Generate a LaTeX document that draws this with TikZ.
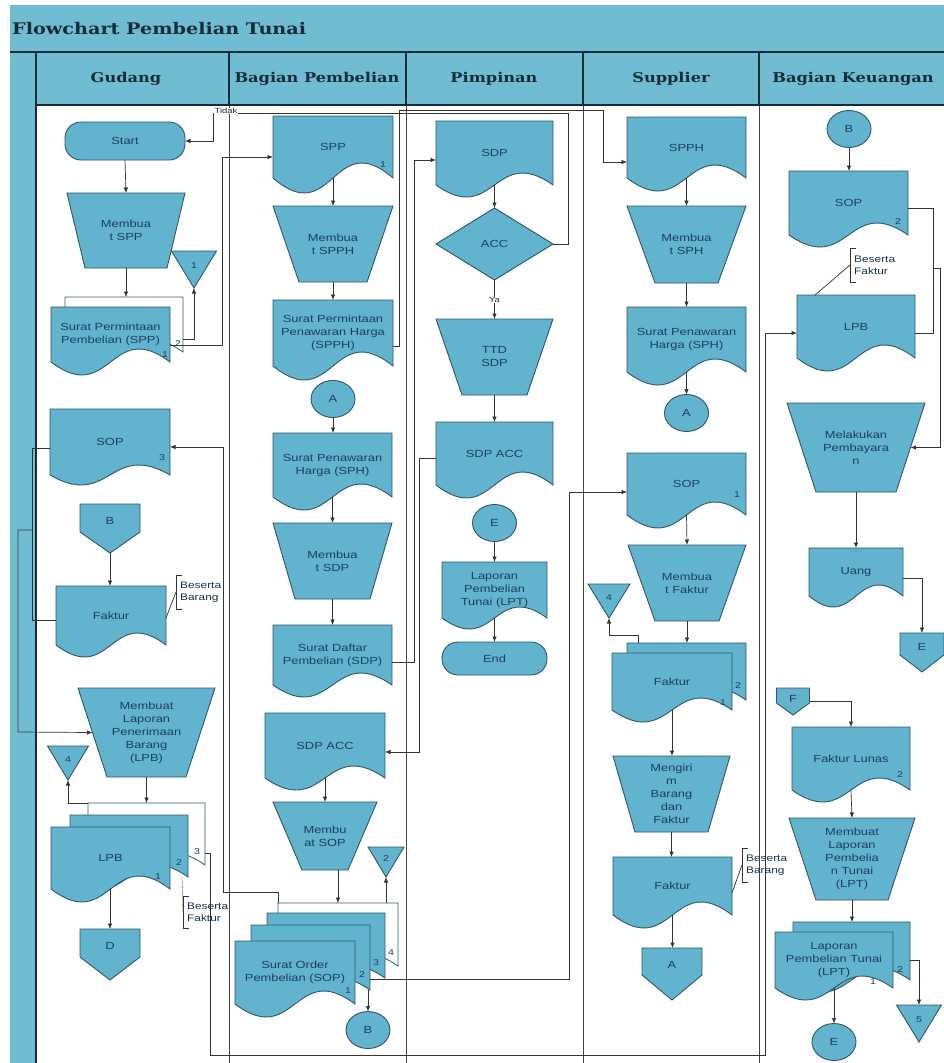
\documentclass[tikz,border=0pt]{standalone}
\usepackage{fontspec}
\usetikzlibrary{arrows.meta,shapes.geometric,calc}
\newfontfamily\shapefont[FakeStretch=1.25]{Liberation Sans}
\newfontfamily\headfont[FakeStretch=1.2]{DejaVu Serif}
\definecolor{bandblue}{HTML}{70BDD3}
\definecolor{shapeblue}{HTML}{62B3CD}
\definecolor{edge}{HTML}{2F5868}
\definecolor{ink}{HTML}{1C3E62}
\definecolor{wirecol}{HTML}{333333}
\definecolor{headink}{HTML}{142C38}
\definecolor{lanecol}{HTML}{444444}

\tikzset{
  shp/.style={fill=shapeblue, draw=edge, line width=0.9pt},
  shpw/.style={fill=white, draw=edge, line width=0.8pt},
  lbl/.style={inner sep=0pt, outer sep=0pt, align=center, text=ink,
    font=\shapefont\fontsize{10.3}{13}\selectfont},
  num/.style={inner sep=0pt, text=ink, font=\shapefont\fontsize{8.5}{9}\selectfont},
  tag/.style={fill=white, inner sep=0.6pt, text=ink!70!black,
    font=\shapefont\fontsize{7.5}{8}\selectfont},
  term/.style={lbl, shp, rectangle, rounded corners=16pt},
  conn/.style={lbl, shp, ellipse, minimum width=44pt, minimum height=37pt},
  arr/.style={draw=wirecol, line width=0.7pt, -{Latex[length=5.5pt,width=4.5pt]}},
  cable/.style={draw=wirecol, line width=0.7pt},
  ann/.style={draw=wirecol, line width=0.6pt},
  annt/.style={inner sep=0pt, align=left, text=ink!80!black,
    font=\shapefont\fontsize{9.5}{12}\selectfont},
  headline/.style={draw=headink, line width=1.2pt},
  lanebody/.style={draw=lanecol, line width=0.8pt},
  head/.style={inner sep=0pt, text=headink, font=\headfont\bfseries\fontsize{13.5}{15}\selectfont},
}

% document: name, x1, top, x2, wave line, wave depth, text
\newcommand\mkDoc[8][shp]{%
  \filldraw[#1] (#3,#4) -- (#5,#4) -- (#5,#6)
    .. controls ({(#3+#5)/2},{#6-3.46*#7}) and ({(#3+#5)/2},{#6+3.46*#7}) .. (#3,#6) -- cycle;
  \node[lbl, minimum width={(#5-(#3))*1pt}, minimum height={(#6-(#4))*1pt}]
    (#2) at ({(#3+#5)/2},{(#4+#6)/2}) {#8};
}
% manual operation: name, x1, top, x2, bottom, inset, text
\newcommand\mkTrap[7]{%
  \filldraw[shp] (#2,#3) -- (#4,#3) -- ({#4-#6},#5) -- ({#2+#6},#5) -- cycle;
  \node[lbl, minimum width={(#4-(#2))*1pt}, minimum height={(#5-(#3))*1pt}]
    (#1) at ({(#2+#4)/2},{(#3+#5)/2}) {#7};
  \coordinate (#1-l) at ({#2+#6/2},{(#3+#5)/2});
  \coordinate (#1-r) at ({#4-#6/2},{(#3+#5)/2});
}
% offline storage triangle: name, cx, top, width, height, text
\newcommand\mkTri[6]{%
  \filldraw[shp] ({#2-#4/2},#3) -- ({#2+#4/2},#3) -- (#2,{#3+#5}) -- cycle;
  \node[lbl, minimum width={#4*1pt}, minimum height={#5*1pt}] (#1) at (#2,{#3+#5/2}) {};
  \node[num] (#1-t) at (#2,{#3+#5*0.4}) {#6};
}
% off-page connector: name, cx, top, width, shoulder, tip, text
\newcommand\mkOff[7]{%
  \filldraw[shp] ({#2-#4/2},#3) -- ({#2+#4/2},#3) -- ({#2+#4/2},#5) -- (#2,#6)
    -- ({#2-#4/2},#5) -- cycle;
  \node[lbl, minimum width={#4*1pt}, minimum height={(#6-(#3))*1pt}] (#1) at (#2,{(#3+#6)/2}) {};
  \node[lbl] (#1-t) at (#2,{(#3+#5)/2+3}) {#7};
}
% annotation bracket: name, x, top, bottom, text
\newcommand\mkBrace[5]{%
  \draw[ann] ({#2+6},#3) -- (#2,#3) -- (#2,#4) -- ({#2+6},#4);
  \coordinate (#1) at (#2,{(#3+#4)/2});
  \node[annt, anchor=west] (#1-t) at ({#2+4},{(#3+#4)/2}) {#5};
}

\begin{document}
\begin{tikzpicture}[x=1pt, y=-1pt]
\useasboundingbox (0,0) rectangle (944,1063);

% ---- swimlane frame ----
\fill[white] (0,0) rectangle (944,1063);
\fill[bandblue] (10,5) rectangle (944,1063);
\fill[white] (36,105) rectangle (944,1063);
\foreach \lx in {229,406,583,759} {
  \draw[lanebody] (\lx,105) -- (\lx,1063);
  \draw[headline] (\lx,52) -- (\lx,105);
}
\draw[headline] (10,52) -- (944,52);
\draw[headline] (36,105) -- (944,105);
\draw[headline] (36,52) -- (36,1063);

\node[head, font=\headfont\bfseries\fontsize{16}{18}\selectfont, anchor=west]
  (title) at (12,29) {Flowchart Pembelian Tunai};
\node[head] (laneG) at (126,79) {Gudang};
\node[head] (laneB) at (317,79) {Bagian Pembelian};
\node[head] (laneP) at (494,79) {Pimpinan};
\node[head] (laneS) at (671,79) {Supplier};
\node[head] (laneK) at (853,79) {Bagian Keuangan};

% ---- Gudang ----
\node[term, minimum width=120pt, minimum height=38pt] (start) at (125,141) {Start};
\mkTrap{mkspp}{67}{193}{185}{268}{18}{Membua\\t SPP}
\mkTri{tri1}{194}{251}{45}{37}{1}
\mkDoc[shpw]{sppG2}{65}{297}{183}{352}{12}{}
\mkDoc{sppG}{51}{307}{170}{362}{13}{Surat Permintaan\\Pembelian (SPP)}
\node[num] (nSppG1) at (165,355) {1};
\node[num] (nSppG2) at (178,344) {2};
\mkDoc{sop3}{50}{409}{170}{475}{10}{SOP}
\node[num] (nSop3) at (162,458) {3};
\mkOff{offB}{110}{504}{60}{532}{553}{B}
\mkDoc{fakturG}{56}{586}{166}{645}{12}{Faktur}
\mkBrace{brG}{176}{575}{609}{Beserta\\Barang}
\mkTrap{mklpb}{78}{688}{215}{777}{29}{Membuat\\Laporan\\Penerimaan\\Barang\\(LPB)}
\mkTri{tri4}{68}{746}{41}{34}{4}
\mkDoc[shpw]{lpbH}{88}{803}{205}{865}{12}{}
\mkDoc{lpbB}{70}{815}{188}{877}{12}{}
\mkDoc{lpbF}{51}{827}{170}{889}{13}{LPB}
\node[num] (nLpb1) at (158,877) {1};
\node[num] (nLpb2) at (179,863) {2};
\node[num] (nLpb3) at (197,852) {3};
\mkOff{offD}{110}{929}{60}{957}{980}{D}
\mkBrace{brG2}{183}{896}{928}{Beserta\\Faktur}

% ---- Bagian Pembelian ----
\mkDoc{sppB}{273}{116}{393}{178}{15}{SPP}
\node[num] (nSppB) at (383,165) {1};
\mkTrap{mkspph}{273}{206}{393}{282}{26}{Membua\\t SPPH}
\mkDoc{spphB}{273}{300}{393}{366}{14}{Surat Permintaan\\Penawaran Harga\\(SPPH)}
\node[conn] (cA1) at (333,399) {A};
\mkDoc{sphB}{273}{433}{392}{497}{13}{Surat Penawaran\\Harga (SPH)}
\mkTrap{mksdp}{273}{523}{392}{599}{22}{Membua\\t SDP}
\mkDoc{sdpB}{273}{625}{392}{685}{12}{Surat Daftar\\Pembelian (SDP)}
\mkDoc{sdpaccB}{265}{713}{385}{778}{12}{SDP ACC}
\mkTrap{mksop}{273}{802}{377}{870}{29}{Membu\\at SOP}
\mkTri{tri2}{386}{847}{36}{30}{2}
\mkDoc[shpw]{sopH}{278}{903}{398}{966}{12}{}
\mkDoc{sopB}{267}{913}{385}{978}{12}{}
\mkDoc{sopM}{251}{925}{370}{990}{12}{}
\mkDoc{sopF}{235}{941}{355}{1004}{13}{Surat Order\\Pembelian (SOP)}
\node[num] (nSop1) at (348,991) {1};
\node[num] (nSop2) at (362,975) {2};
\node[num] (nSop3b) at (376,963) {3};
\node[num] (nSop4) at (391,953) {4};
\node[conn] (cB1) at (368,1030) {B};

% ---- Pimpinan ----
\mkDoc{sdpP}{436}{121}{553}{185}{12}{SDP}
\filldraw[shp] (494.5,208) -- (553,244) -- (494.5,280) -- (436,244) -- cycle;
\node[lbl, minimum width=117pt, minimum height=72pt] (acc) at (494.5,244) {ACC};
\mkTrap{ttd}{436}{319}{553}{395}{26}{TTD\\SDP}
\mkDoc{sdpaccP}{436}{422}{553}{485}{13}{SDP ACC}
\node[conn] (cE1) at (494.5,523) {E};
\mkDoc{lptP}{442}{562}{547}{618}{11}{Laporan\\Pembelian\\Tunai (LPT)}
\node[term, minimum width=105pt, minimum height=33pt] (endT) at (494.5,658.5) {End};

% ---- Supplier ----
\mkDoc{spphS}{627}{117}{746}{178}{13}{SPPH}
\mkTrap{mksph}{627}{206}{746}{283}{28}{Membua\\t SPH}
\mkDoc{sphS}{627}{307}{746}{372}{13}{Surat Penawaran\\Harga (SPH)}
\node[conn] (cA2) at (686.5,413) {A};
\mkDoc{sopS}{627}{453}{746}{515}{13}{SOP}
\node[num] (nSopS) at (737,495) {1};
\mkTrap{mkfaktur}{628}{545}{746}{621}{27}{Membua\\t Faktur}
\mkTri{tri4S}{609}{584}{42}{34}{4}
\mkDoc{fakS2}{627}{643}{746}{700}{12}{}
\mkDoc{fakS1}{612}{653}{732}{710}{12}{Faktur}
\node[num] (nFak1) at (723,703) {1};
\node[num] (nFak2) at (738,686) {2};
\mkTrap{mengirim}{613}{756}{730}{832}{22}{Mengiri\\m\\Barang\\dan\\Faktur}
\mkDoc{fakturS}{613}{857}{732}{915}{13}{Faktur}
\mkBrace{brS}{742}{848}{882}{Beserta\\Barang}
\mkOff{offA}{672}{948}{60}{975}{1000}{A}

% ---- Bagian Keuangan ----
\node[conn] (cB2) at (849,129) {B};
\mkDoc{sopK}{789}{171}{908}{235}{12}{SOP}
\node[num] (nSopK) at (898,222) {2};
\mkBrace{brK}{850}{248}{282}{Beserta\\Faktur}
\mkDoc{lpbK}{797}{295}{915}{358}{13}{LPB}
\mkTrap{melakukan}{787}{403}{925}{492}{29}{Melakukan\\Pembayara\\n}
\mkDoc{uang}{809}{548}{903}{596}{11}{Uang}
\mkOff{offE}{922}{633}{44}{655}{672}{E}
\mkOff{offF}{793}{688}{33}{703}{715}{F}
\mkDoc{fakturLunas}{792}{727}{910}{790}{12}{Faktur Lunas}
\node[num] (nFL) at (900,775) {2};
\mkTrap{mklpt}{789}{818}{915}{900}{27}{Membuat\\Laporan\\Pembelia\\n Tunai\\(LPT)}
\mkDoc{lptK2}{793}{922}{910}{980}{12}{}
\mkDoc{lptK1}{775}{932}{893}{988}{12}{Laporan\\Pembelian Tunai\\(LPT)}
\node[num] (nLpt1) at (873,982) {1};
\node[num] (nLpt2) at (900,970) {2};
\mkTri{tri5}{919}{1005}{45}{37}{5}
\node[conn] (cE2) at (834,1042) {E};

% ---- connectors: Gudang ----
\draw[arr] (start.south) -- (mkspp.north);
\draw[arr] (mkspp.south) -- (mkspp.south |- sppG2.north);
\draw[arr] (sppG2.east |- 0,339) -| (tri1.south);
\draw[arr] (sppG.east |- 0,345) -- (222,345) |- ([yshift=-10pt]sppB.west);
\draw[arr] (offB.south) -- (offB.south |- fakturG.north);
\draw[cable] ([yshift=-6pt]sop3.west) -| (32,620) -- ([yshift=-4.5pt]fakturG.west);
\coordinate (jG) at (32,530);
\draw[arr] (jG) -| (18,732) -- (mklpb-l);
\draw[cable] (fakturG.east |- 0,618) -- (brG);
\draw[arr] (mklpb.south) -- (mklpb.south |- lpbH.north);
\draw[arr] (lpbH.north west) -| (tri4.south);
\draw[arr] ([yshift=-19pt]lpbH.east) -| (210,1055) -| (765,333) -- ([yshift=-6.5pt]lpbK.west);
\draw[arr] (offD.north |- lpbF.south) -- (offD.north);
\draw[cable, densely dotted] ([xshift=-6pt]lpbB.south east) -- (brG2);

% ---- connectors: Bagian Pembelian ----
\draw[arr] (sppB.south) -- (mkspph.north);
\draw[arr] (mkspph.south) -- (spphB.north);
\draw[arr] ([yshift=-13pt]spphB.east) -- (399,346) -- (399,110) -- (603,110)
  |- ([yshift=-14.5pt]spphS.west);
\draw[arr] (cA1.south) -- (cA1.south |- sphB.north);
\draw[arr] (sphB.south) -- (mksdp.north);
\draw[arr] (mksdp.south) -- (sdpB.north);
\draw[arr] ([yshift=-7pt]sdpB.east) -| (414,160) -- ([yshift=-7pt]sdpP.west);
\draw[arr] (sdpaccB.south) -- (mksop.north);
\draw[arr] ([xshift=13pt]mksop.south) -- ([xshift=13pt]mksop.south |- sopH.north);
\draw[arr] (tri2.south |- sopH.north) -- (tri2.south);
\draw[arr] (sopH.north west) |- (223,892) |- ([yshift=-5pt]sop3.east);
\draw[arr] ([yshift=-21.5pt]sopM.east) -| (569,492) -- ([yshift=-8pt]sopS.west);
\draw[arr] (cB1.north |- 0,990) -- (cB1.north);

% ---- connectors: Pimpinan ----
\draw[arr] (sdpP.south) -- (sdpP.south |- acc.north);
\draw[arr] (acc.south) -- (ttd.north);
\node[tag] (ya) at (494.5,300) {Ya};
\draw[arr] (acc.east) -- (568,244) |- (213,113) |- (start.east);
\node[tag] (tidak) at (226,111) {Tidak};
\draw[arr] (ttd.south) -- (ttd.south |- sdpaccP.north);
\draw[arr] ([yshift=-5pt]sdpaccP.west) -| (419,752) -- ([yshift=-6.5pt]sdpaccB.east);
\draw[arr] (cE1.south) -- (cE1.south |- lptP.north);
\draw[arr] (lptP.south) -- (endT.north);

% ---- connectors: Supplier ----
\draw[arr] (spphS.south) -- (mksph.north);
\draw[arr] (mksph.south) -- (sphS.north);
\draw[arr] (sphS.south) -- (sphS.south |- cA2.north);
\draw[arr] (sopS.south) -- (mkfaktur.north);
\draw[arr] (mkfaktur.south) -- (mkfaktur.south |- fakS2.north);
\draw[arr] ([xshift=11pt]fakS2.north west) |- (609,635) -- (tri4S.south);
\draw[arr] (fakS1.south) -- (fakS1.south |- mengirim.north);
\draw[arr] (mengirim.south) -- (mengirim.south |- fakturS.north);
\draw[arr] (fakturS.south) -- (fakturS.south |- offA.north);
\draw[cable] (fakturS.east |- 0,893) -- (brS);

% ---- connectors: Bagian Keuangan ----
\draw[arr] (cB2.south) -- (cB2.south |- sopK.north);
\draw[cable] ([yshift=-5pt]sopK.east) -| (933,333) -- ([yshift=-6.5pt]lpbK.east);
\coordinate (jK) at (933,268);
\draw[arr] (jK) -- (940,268) |- (melakukan-r);
\draw[cable] ([xshift=18pt]lpbK.north west) -- (brK);
\draw[arr] (melakukan.south) -- (melakukan.south |- uang.north);
\draw[arr] ([yshift=-6pt]uang.east) -| (offE.north);
\draw[arr] (offF.east) -| (fakturLunas.north);
\draw[arr] (fakturLunas.south) -- (mklpt.north);
\draw[arr] (mklpt.south) -- (mklpt.south |- lptK2.north);
\draw[arr] ([yshift=-9pt]lptK2.east) -| (tri5.north);
\draw[arr] (lptK1.south) -- (lptK1.south |- cE2.north);
\end{tikzpicture}
\end{document}
